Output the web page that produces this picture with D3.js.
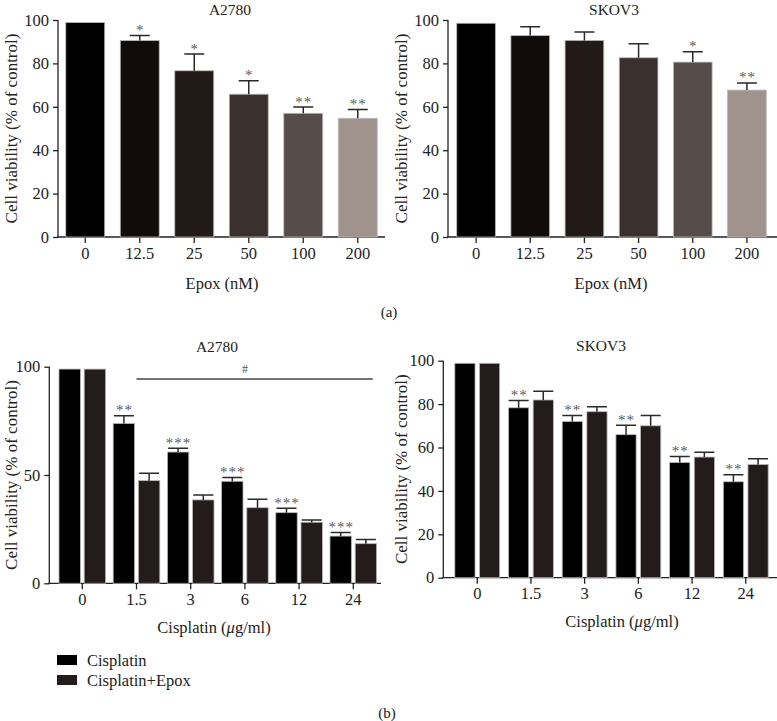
<!DOCTYPE html>
<html><head><meta charset="utf-8">
<script src="https://cdn.jsdelivr.net/npm/d3@7"></script>
<style>body{margin:0;background:#fff}svg{display:block}svg text{font-family:"Liberation Serif","DejaVu Serif",serif !important;fill:#222}</style>
</head><body><svg id="c" width="777" height="721"></svg>
<script>
// ---- data ----
const epoxDoses = ["0","12.5","25","50","100","200"];
const epoxColors = ["#000000","#110b09","#221a17","#3a302d","#564c4a","#a0938e"];
const a2780Epox = [98.8, 90.5, 76.6, 65.8, 57.0, 54.7];
const a2780EpoxErr = [98.8, 92.8, 84.3, 72.0, 59.9, 58.8];
const a2780EpoxSig = ["", "*", "*", "*", "**", "**"];
const skov3Epox = [98.5, 92.8, 90.6, 82.6, 80.6, 67.7];
const skov3EpoxErr = [98.5, 96.9, 94.5, 89.0, 85.4, 71.0];
const skov3EpoxSig = ["", "", "", "", "*", "**"];

const cisDoses = ["0","1.5","3","6","12","24"];
const seriesNames = ["Cisplatin","Cisplatin+Epox"];
const seriesColors = ["#000000","#231c1a"];
const a2780Cis = [98.9, 73.8, 60.6, 47.1, 32.6, 21.8];
const a2780CisErr = [98.9, 77.4, 62.3, 48.8, 34.6, 23.5];
const a2780Combo = [98.9, 47.4, 38.5, 34.9, 28.2, 18.3];
const a2780ComboErr = [98.9, 50.8, 40.8, 38.8, 29.2, 20.2];
const a2780CisSig = ["", "**", "***", "***", "***", "***"];
const skov3Cis = [98.8, 78.3, 72.0, 65.9, 53.1, 44.2];
const skov3CisErr = [98.8, 81.7, 74.8, 70.2, 55.8, 47.5];
const skov3Combo = [98.8, 81.9, 76.5, 70.0, 55.6, 52.2];
const skov3ComboErr = [98.8, 85.9, 78.8, 74.7, 57.8, 54.8];
const skov3CisSig = ["", "**", "**", "**", "**", "**"];
const yTicks100by20 = [0,20,40,60,80,100];
const yTicks100by50 = [0,50,100];

const FS = "16.5px";
const FF = '"Liberation Serif", serif';
const svg = d3.select("#c").attr("font-family", FF);

function panel(o){
  const g = svg.append("g");
  const x = d3.scaleBand().domain(o.cats).range([o.x0, o.x1]);
  const y = d3.scaleLinear().domain([0,100]).range([o.yb, o.yt]);
  const ya = d3.axisLeft(y).tickValues(o.yticks).tickSize(5).tickPadding(4).tickSizeOuter(0);
  const yg = g.append("g").attr("transform",`translate(${o.ax},0)`).call(ya);
  yg.select(".domain").attr("d",`M0,${o.yt}V${o.yb}`);
  const xa = d3.axisBottom(x).tickSize(6).tickPadding(4).tickSizeOuter(0);
  const xg = g.append("g").attr("transform",`translate(0,${o.yb})`).call(xa);
  xg.select(".domain").attr("d",`M${o.ax-1},0H${o.axEnd}`);
  [yg,xg].forEach(s=>{
    s.attr("font-family",FF).attr("font-size",null);
    s.selectAll("path,line").attr("stroke","#222").attr("stroke-width",1.3);
    s.selectAll("text").style("font-size",FS).style("font-family",FF).attr("fill","#222");
  });
  const nS = o.series.length;
  const inner = d3.scaleBand().domain(d3.range(nS)).range([0, x.bandwidth()])
    .paddingInner(o.innerPad||0).paddingOuter(o.outerPad);
  o.series.forEach((s,si)=>{
    s.vals.forEach((v,i)=>{
      const bx = x(o.cats[i]) + inner(si);
      const bw = inner.bandwidth();
      const col = s.colors ? s.colors[i] : s.color;
      g.append("rect").attr("x",bx).attr("y",y(v)).attr("width",bw).attr("height",y(0)-y(v))
        .attr("fill",col).attr("stroke","#b8b8b8").attr("stroke-width",0.8);
      const e = s.err[i];
      if (e > v + 0.1){
        const cx = bx + bw/2, cw = Math.min(20, bw);
        g.append("path").attr("d",`M${cx},${y(v)}V${y(e)}M${cx-cw/2},${y(e)}H${cx+cw/2}`)
          .attr("stroke","#2a2a2a").attr("stroke-width",1.5).attr("fill","none");
      }
      if (s.sig && s.sig[i]){
        g.append("text").attr("x",bx+bw/2+0.5).attr("y",y(e)-0.5).attr("text-anchor","middle")
          .style("font-size","15px").style("letter-spacing","1px").style("fill","#5a5a5a").text(s.sig[i]);
      }
    });
  });
  g.append("text").attr("x",o.tx).attr("y",o.ty).attr("text-anchor","middle").style("font-size","15.5px").text(o.title);
  g.append("text").attr("x",o.xlx).attr("y",o.xly).attr("text-anchor","middle").style("font-size",FS).html(o.xlabel);
  g.append("text").attr("transform",`translate(${o.ylx},${(o.yt+o.yb)/2}) rotate(-90)`)
    .attr("text-anchor","middle").style("font-size","17px").text("Cell viability (% of control)");
  return {g,x,y};
}

panel({cats:epoxDoses, x0:58, x1:385, ax:58, axEnd:385, yt:20, yb:237, yticks:yTicks100by20, outerPad:0.2,
  series:[{vals:a2780Epox, err:a2780EpoxErr, colors:epoxColors, sig:a2780EpoxSig}],
  title:"A2780", tx:230, ty:15, xlabel:"Epox (nM)", xlx:222, xly:289, ylx:17});
panel({cats:epoxDoses, x0:449, x1:774, ax:448, axEnd:777, yt:20, yb:237, yticks:yTicks100by20, outerPad:0.2,
  series:[{vals:skov3Epox, err:skov3EpoxErr, colors:epoxColors, sig:skov3EpoxSig}],
  title:"SKOV3", tx:614, ty:15, xlabel:"Epox (nM)", xlx:611, xly:289, ylx:407});

const pb = panel({cats:cisDoses, x0:55.2, x1:380.4, ax:49.3, axEnd:381, yt:366.7, yb:583.3, yticks:yTicks100by50,
  innerPad:0.15, outerPad:0.15,
  series:[{vals:a2780Cis, err:a2780CisErr, color:seriesColors[0], sig:a2780CisSig},
          {vals:a2780Combo, err:a2780ComboErr, color:seriesColors[1]}],
  title:"A2780", tx:217, ty:352, xlabel:'Cisplatin (<tspan font-style="italic">μ</tspan>g/ml)', xlx:214, xly:633, ylx:17});
pb.g.append("line").attr("x1",pb.x("1.5")+pb.x.bandwidth()/2).attr("x2",372.7).attr("y1",379).attr("y2",379)
  .attr("stroke","#444").attr("stroke-width",1.4);
pb.g.append("text").attr("x",pb.x("6")+pb.x.bandwidth()/2).attr("y",373).attr("text-anchor","middle")
  .style("font-size","12px").style("fill","#555").text("#");

panel({cats:cisDoses, x0:450.4, x1:772.6, ax:443.3, axEnd:777, yt:360.7, yb:577.7, yticks:yTicks100by20,
  innerPad:0.18, outerPad:0.18,
  series:[{vals:skov3Cis, err:skov3CisErr, color:seriesColors[0], sig:skov3CisSig},
          {vals:skov3Combo, err:skov3ComboErr, color:seriesColors[1]}],
  title:"SKOV3", tx:601, ty:351, xlabel:'Cisplatin (<tspan font-style="italic">μ</tspan>g/ml)', xlx:622, xly:627, ylx:407});

const lg = svg.append("g");
seriesNames.forEach((n,i)=>{
  lg.append("rect").attr("x",57).attr("y",655+i*20).attr("width",20).attr("height",10).attr("fill",seriesColors[i]);
  lg.append("text").attr("x",87).attr("y",666+i*20).style("font-size",FS).text(n);
});
svg.append("text").attr("x",389).attr("y",317).attr("text-anchor","middle").style("font-size","15px").text("(a)");
svg.append("text").attr("x",387).attr("y",718).attr("text-anchor","middle").style("font-size","15px").text("(b)");
</script></body></html>
